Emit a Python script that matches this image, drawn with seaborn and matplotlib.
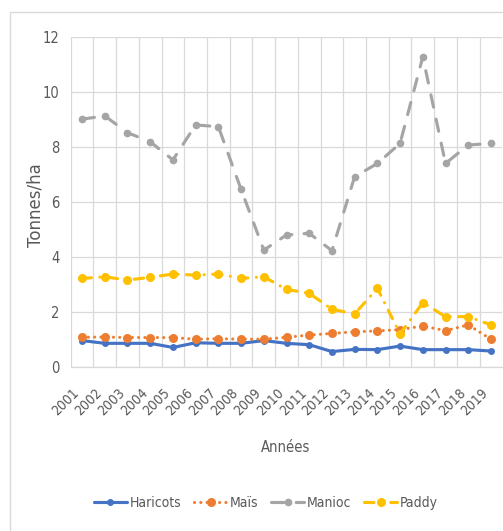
"""
Rendements agricoles par culture, 2001-2019.
"""

import matplotlib
matplotlib.use("Agg")
import matplotlib.pyplot as plt
from matplotlib.patches import Rectangle
from matplotlib.ticker import MultipleLocator
import pandas as pd
import seaborn as sns

# Data
years = list(range(2001, 2020))
haricots = [0.95, 0.85, 0.85, 0.85, 0.70, 0.87, 0.85, 0.85, 0.95, 0.85,
            0.80, 0.55, 0.63, 0.62, 0.75, 0.62, 0.62, 0.62, 0.57]
mais = [1.07, 1.08, 1.06, 1.06, 1.06, 1.00, 1.02, 1.00, 1.00, 1.07,
        1.15, 1.21, 1.27, 1.30, 1.35, 1.48, 1.31, 1.52, 1.00]
manioc = [9.00, 9.12, 8.51, 8.18, 7.52, 8.79, 8.73, 6.45, 4.24, 4.79,
          4.85, 4.22, 6.91, 7.39, 8.12, 11.27, 7.39, 8.06, 8.12]
paddy = [3.21, 3.27, 3.15, 3.25, 3.37, 3.33, 3.37, 3.21, 3.27, 2.81,
         2.67, 2.09, 1.92, 2.85, 1.19, 2.33, 1.82, 1.82, 1.52]

series_names = ["Haricots", "Maïs", "Manioc", "Paddy"]
colors = ["#4472C4", "#ED7D31", "#A5A5A5", "#FFC000"]
styles = ["-", (0, (0.01, 2.0)), (0, (4.0, 3.9)), (0, (3.0, 2.7, 0.01, 2.7))]
marker_sizes = [5, 6.5, 5.5, 6.5]

df = pd.DataFrame({
    "annee": years * 4,
    "rendement": haricots + mais + manioc + paddy,
    "culture": [n for n in series_names for _ in years],
})

sns.set_theme(style="white")
plt.rcParams["font.family"] = ["DejaVu Sans"]
plt.rcParams["font.stretch"] = "condensed"

TXT = "#595959"
GRID = "#d9d9d9"

fig = plt.figure(figsize=(5.03, 5.31), dpi=100)
ax = fig.add_axes([70.7 / 503, 1 - 366.7 / 531, (502.3 - 70.7) / 503, 330 / 531])

for name, col, ls, ms in zip(series_names, colors, styles, marker_sizes):
    sns.lineplot(
        data=df[df["culture"] == name],
        x="annee",
        y="rendement",
        color=col,
        linestyle=ls,
        linewidth=2.25,
        marker="o",
        markersize=ms,
        markeredgewidth=0,
        dash_capstyle="round",
        label=name,
        ax=ax,
        legend=False,
    )

ax.set_xlim(2000.5, 2019.5)
ax.set_ylim(0, 12)
ax.set_xticks(years)
ax.xaxis.set_minor_locator(MultipleLocator(1, offset=0.5))
ax.yaxis.set_major_locator(MultipleLocator(2))
ax.grid(False)
ax.grid(axis="y", which="major", color=GRID, linewidth=0.9)
ax.grid(axis="x", which="minor", color=GRID, linewidth=0.9)
ax.set_axisbelow(True)
for s in ["top", "right", "left"]:
    ax.spines[s].set_visible(False)
ax.spines["bottom"].set_color(GRID)
ax.spines["bottom"].set_linewidth(0.9)

ax.tick_params(axis="both", which="both", length=0)
ax.tick_params(axis="y", labelsize=10.5, labelcolor=TXT, pad=8)
ax.tick_params(axis="x", labelsize=10, labelcolor=TXT, pad=14)
ax.set_xticklabels([str(y) for y in years], rotation=45, ha="right", va="top")
ax.set_xlabel("")
ax.set_ylabel("")

fig.text(286 / 503, 1 - 447 / 531, "Années", ha="center", va="center",
         fontsize=10.5, color=TXT)
fig.text(35 / 503, 1 - 205 / 531, "Tonnes/ha", ha="center", va="center",
         rotation=90, fontsize=12, color=TXT, stretch="normal")

# Chart title, cut off by the top edge as in the source picture
fig.text(40 / 503, 1 + 1 / 531, "Évolution des rendements", ha="left",
         va="baseline", fontsize=13, color=TXT)

fig.add_artist(Rectangle((9.5 / 503, -0.02), 1.0, 1 - 12.3 / 531 + 0.02,
                         transform=fig.transFigure, fill=False,
                         edgecolor=GRID, linewidth=1))

handles, labels = ax.get_legend_handles_labels()
leg = fig.legend(handles, labels, ncol=4, loc="center",
                 bbox_to_anchor=(266 / 503, 1 - 503 / 531), frameon=False,
                 fontsize=10, handlelength=2.4, handletextpad=0.2,
                 columnspacing=0.9, numpoints=1)
for t in leg.get_texts():
    t.set_color(TXT)

fig.savefig("out.png", dpi=100)
